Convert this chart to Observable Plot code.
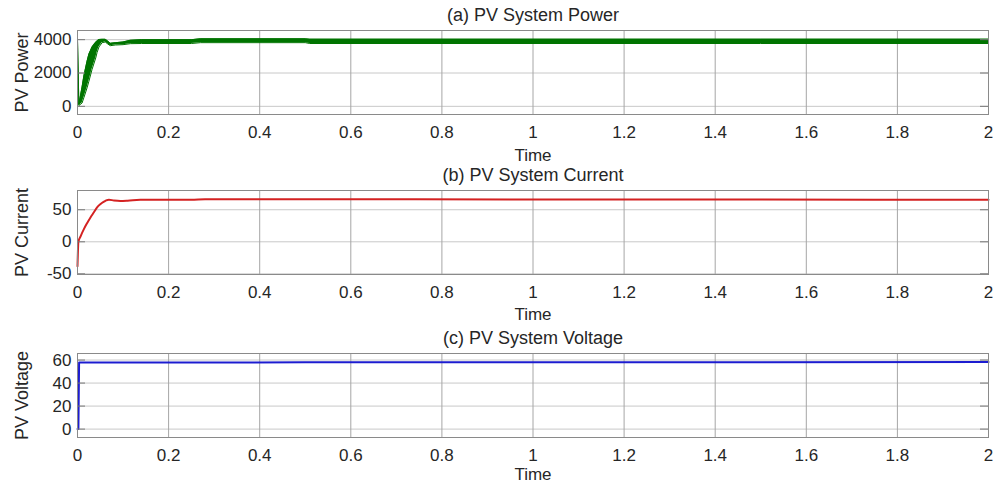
<!DOCTYPE html>
<html><head><meta charset="utf-8">
<script src="https://cdn.jsdelivr.net/npm/d3@7"></script>
<script src="https://cdn.jsdelivr.net/npm/@observablehq/plot@0.6"></script>
<style>
body{margin:0;background:#fff;}
#chart{width:1003px;height:491px;overflow:hidden;}
#chart svg{display:block;}
</style></head><body><div id="chart"></div>
<script>
// ---- shared x ticks ----
const timeTicks = [0, 0.2, 0.4, 0.6, 0.8, 1, 1.2, 1.4, 1.6, 1.8, 2];

// ---- (a) PV power: ripple band (lower / upper envelope) ----
const powerTime = [0, 0.003, 0.010, 0.014, 0.021, 0.025, 0.032, 0.040, 0.043, 0.047, 0.054, 0.061, 0.066, 0.072, 0.083, 0.100, 0.116, 0.140, 0.250, 0.270, 0.500, 0.510, 1.000, 1.500, 2.000];
const powerLow  = [4000,   50,   200,   520,  1110,  1500,  2220,  2900,  3230,  3560,  3820,  3860,  3750,  3640,  3680,  3700,  3760,  3770,  3770,  3820,  3820,  3770,  3770,  3770,  3770];
const powerHigh = [4000,  120,  1150,  1820,  2700,  3130,  3560,  3840,  3920,  4010,  4020,  4020,  3930,  3780,  3820,  3860,  3960,  4000,  4000,  4050,  4050,  4030,  4030,  4030,  4030];
const powerTicks = [0, 2000, 4000];

// ---- (b) PV current ----
const currentTime = [0, 0.002, 0.007, 0.014, 0.021, 0.0285, 0.036, 0.043, 0.050, 0.058, 0.063, 0.069, 0.080, 0.094, 0.110, 0.138, 0.250, 0.280, 0.500, 1.000, 1.500, 2.000];
const currentVal  = [-38,   0,     9,   19.8,  29,    38,     46,   53.6,  58.5,  62.5,  64.5,  65.6,  64.5,  63.8,  64.2,  65.6,  65.6,  66.3,  66.3,  66.0,  65.8,  65.5];
const currentTicks = [-50, 0, 50];

// ---- (c) PV voltage ----
const voltageTime = [0, 0.002, 0.0035, 0.5, 1.0, 1.5, 2.0];
const voltageVal  = [0, 0,     57.8,   58.0, 58.1, 58.2, 58.3];
const voltageTicks = [0, 20, 40, 60];

const FONT = '"Liberation Sans", Arial, Helvetica, sans-serif';
const fmt = d => String(d);

function panel({title, ylabel, yDomain, yTicks, height, marginTop, marginBottom, timeDy, marks}) {
  const plotWidth = 1003 - 77 - 15;
  return Plot.plot({
    width: 1003, height, marginLeft: 77, marginRight: 15, marginTop, marginBottom,
    style: {fontFamily: FONT, fontSize: "17px", color: "#262626", background: "#fff", overflow: "visible"},
    x: {domain: [0, 2]},
    y: {domain: yDomain},
    marks: [
      Plot.gridY(yTicks, {stroke: "#c8c8c8", strokeOpacity: 1}),
      Plot.gridX(timeTicks, {stroke: "#a6a6a6", strokeOpacity: 1}),
      ...marks,
      Plot.ruleY(yTicks, {stroke: "#777", insetRight: plotWidth - 8}),
      Plot.ruleY(yTicks, {stroke: "#777", insetLeft: plotWidth - 8}),
      Plot.frame({stroke: "#8a8a8a"}),
      Plot.axisX(timeTicks, {tickSize: 0, tickPadding: 11, tickFormat: fmt, label: null, fontSize: 17}),
      Plot.axisY(yTicks, {tickSize: 0, tickPadding: 6, tickFormat: fmt, label: null, fontSize: 17}),
      Plot.text([title], {frameAnchor: "top", dy: -15, lineAnchor: "middle", textAnchor: "middle", fontSize: 18, fill: "#262626"}),
      Plot.text([ylabel], {frameAnchor: "left", dx: -55, rotate: -90, lineAnchor: "middle", textAnchor: "middle", fontSize: 18, fill: "#262626"}),
      Plot.text(["Time"], {frameAnchor: "bottom", dy: timeDy, lineAnchor: "middle", textAnchor: "middle", fontSize: 17, fill: "#262626"})
    ]
  });
}

const powerData = powerTime.map((t, i) => ({t, lo: powerLow[i], hi: powerHigh[i]}));
const currentData = currentTime.map((t, i) => ({t, v: currentVal[i]}));
const voltageData = voltageTime.map((t, i) => ({t, v: voltageVal[i]}));

const chart = document.getElementById("chart");
chart.append(panel({
  title: "(a) PV System Power", ylabel: "PV Power", yDomain: [-490, 4550], yTicks: powerTicks,
  height: 160, marginTop: 30, marginBottom: 46, timeDy: 41,
  marks: [
    Plot.areaY(powerData, {x: "t", y1: "lo", y2: "hi", fill: "#007400"}),
    Plot.line(powerData, {x: "t", y: "hi", stroke: "#007400", strokeWidth: 1}),
    Plot.line(powerData, {x: "t", y: "lo", stroke: "#007400", strokeWidth: 1})
  ]
}));
chart.append(panel({
  title: "(b) PV System Current", ylabel: "PV Current", yDomain: [-51, 80], yTicks: currentTicks,
  height: 160, marginTop: 30, marginBottom: 46, timeDy: 40,
  marks: [
    Plot.line(currentData, {x: "t", y: "v", stroke: "#d42222", strokeWidth: 2, curve: "monotone-x"})
  ]
}));
chart.append(panel({
  title: "(c) PV System Voltage", ylabel: "PV Voltage", yDomain: [-7.3, 65.7], yTicks: voltageTicks,
  height: 171, marginTop: 33, marginBottom: 54, timeDy: 37,
  marks: [
    Plot.line(voltageData, {x: "t", y: "v", stroke: "#1c1cd0", strokeWidth: 2})
  ]
}));
</script></body></html>
